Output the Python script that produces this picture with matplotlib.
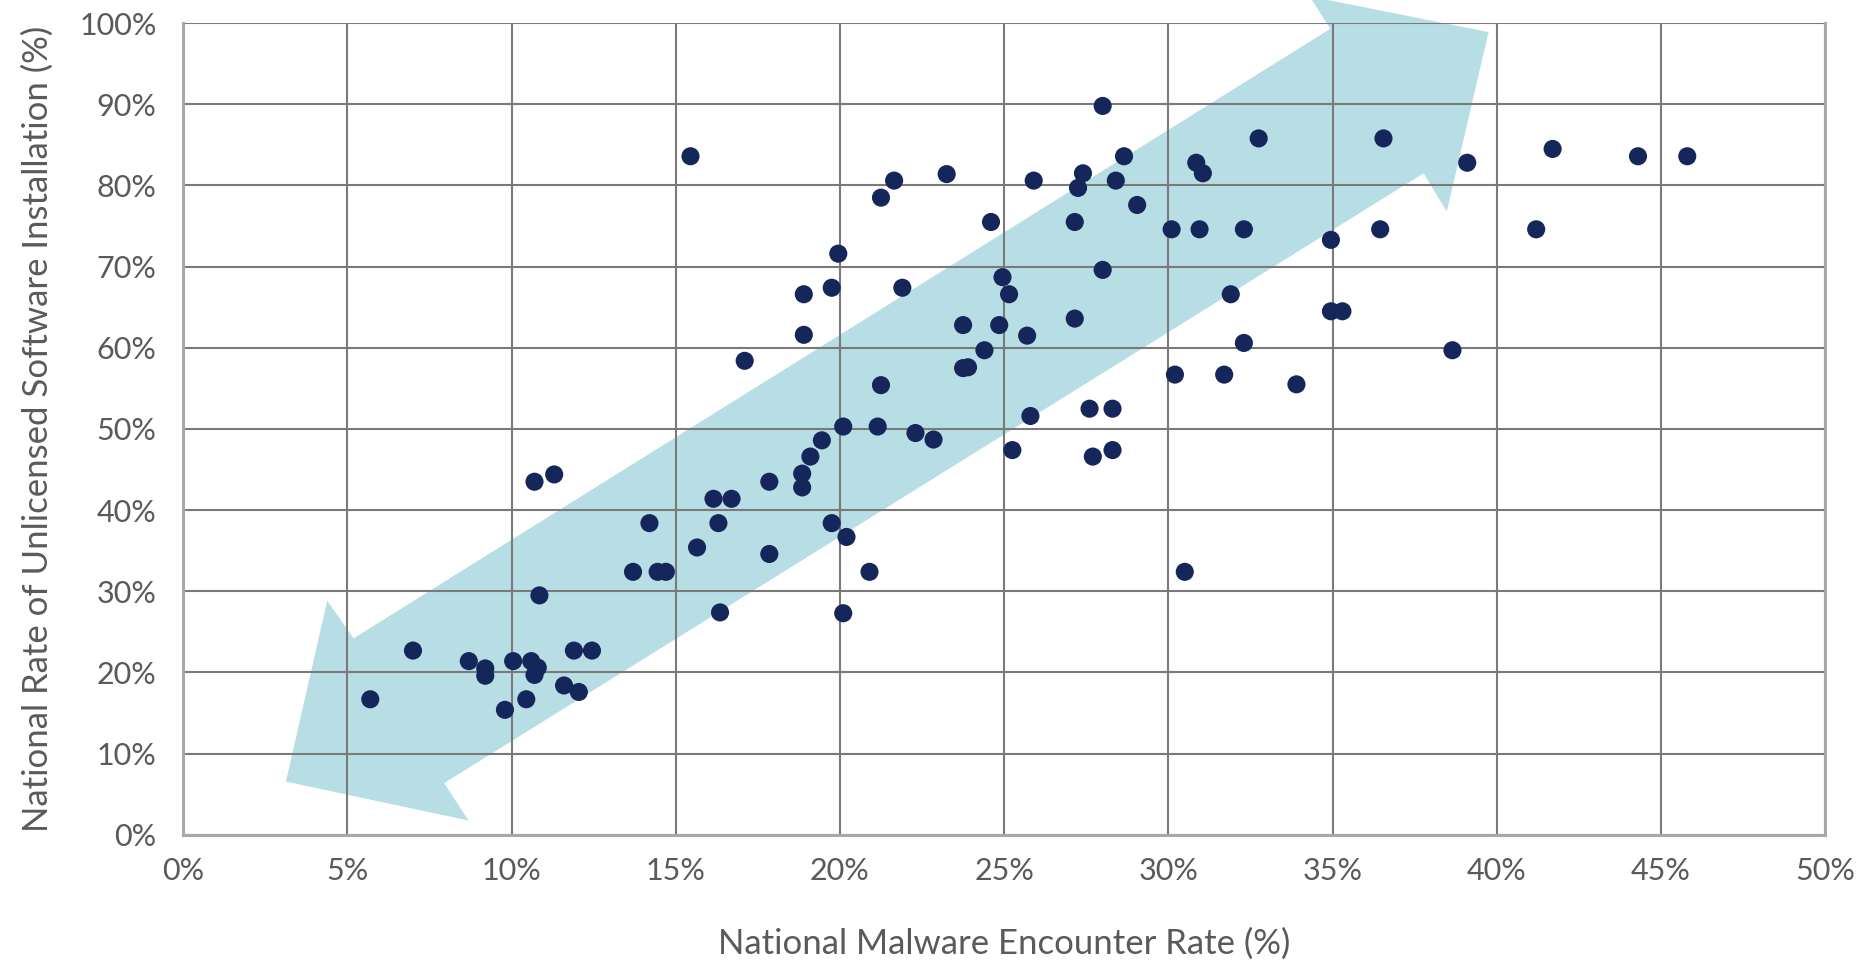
import matplotlib
matplotlib.use("Agg")
import matplotlib.pyplot as plt
from matplotlib.patches import Polygon
from matplotlib.ticker import FuncFormatter

plt.rcParams['font.family'] = ['Lato', 'DejaVu Sans']

# malware encounter rate (%) vs unlicensed software rate (%)
malware = [5.7, 7.0, 8.7, 9.2, 9.2, 9.8, 10.05, 10.45, 10.6, 10.7, 10.8,
           10.7, 11.3, 10.85, 11.6, 11.9, 12.05, 12.45, 13.7, 14.2, 14.45, 14.7,
           15.45, 15.65, 16.15, 16.3, 16.35, 16.7, 17.1, 17.85, 17.85, 18.85,
           18.85, 18.9, 18.9, 19.1, 19.45, 19.75, 19.75, 19.95, 20.1, 20.1, 20.2,
           20.9, 21.15, 21.25, 21.25, 21.65, 21.9, 22.3, 22.85, 23.25, 23.75,
           23.75, 23.9, 24.4, 24.6, 24.85, 24.95, 25.15, 25.25, 25.7, 25.8,
           25.9, 27.15, 27.15, 27.25, 27.4, 27.6, 27.7, 28.0, 28.0, 28.3, 28.3,
           28.4, 28.65, 29.05, 30.1, 30.2, 30.5, 30.85, 30.95, 31.05, 31.7,
           31.9, 32.3, 32.3, 32.75, 33.9, 34.95, 34.95, 35.3, 36.45, 36.55,
           38.65, 39.1, 41.2, 41.7, 44.3, 45.8]
unlicensed = [16.7, 22.7, 21.4, 20.5, 19.6, 15.4, 21.4, 16.7, 21.4, 19.7, 20.6,
              43.5, 44.4, 29.5, 18.4, 22.7, 17.6, 22.7, 32.4, 38.4, 32.4, 32.4,
              83.6, 35.4, 41.4, 38.4, 27.4, 41.4, 58.4, 43.5, 34.6, 44.5,
              42.8, 61.6, 66.6, 46.6, 48.6, 67.4, 38.4, 71.6, 50.3, 27.3, 36.7,
              32.4, 50.3, 55.4, 78.5, 80.6, 67.4, 49.5, 48.7, 81.4, 62.8,
              57.5, 57.6, 59.7, 75.5, 62.8, 68.7, 66.6, 47.4, 61.5, 51.6,
              80.6, 63.6, 75.5, 79.7, 81.5, 52.5, 46.6, 89.8, 69.6, 52.5, 47.4,
              80.6, 83.6, 77.6, 74.6, 56.7, 32.4, 82.8, 74.6, 81.5, 56.7,
              66.6, 60.6, 74.6, 85.8, 55.5, 73.3, 64.5, 64.5, 74.6, 85.8,
              59.7, 82.8, 74.6, 84.5, 83.6, 83.6]

# decorative double-headed arrow outline, in data units
arrow_x = [3.13, 4.39, 5.19, 34.93, 34.3, 39.75, 38.48, 37.77, 7.95, 8.69]
arrow_y = [6.56, 28.85, 24.2, 99.3, 103.3, 98.9, 76.8, 81.5, 6.37, 1.76]

fig = plt.figure(figsize=(18.72, 9.64), dpi=100)
ax = fig.add_axes([0.0978, 0.134, 0.8772, 0.842])

ax.add_patch(Polygon(list(zip(arrow_x, arrow_y)), closed=True,
                     facecolor='#b7dee4', edgecolor='none', zorder=0.2,
                     clip_on=False))

ax.scatter(malware, unlicensed, s=170, color='#15265a', edgecolors='none',
           zorder=3)

ax.set_xlim(0, 50)
ax.set_ylim(0, 100)
ax.set_xticks(range(0, 51, 5))
ax.set_yticks(range(0, 101, 10))
pct = FuncFormatter(lambda v, p: "%d%%" % v)
ax.xaxis.set_major_formatter(pct)
ax.yaxis.set_major_formatter(pct)

ax.set_axisbelow(True)
ax.grid(True, color='#7a7a7a', linewidth=1.5)
for side in ['left', 'bottom', 'right']:
    ax.spines[side].set_color('#a8a8a8')
    ax.spines[side].set_linewidth(2.2)
ax.spines['top'].set_visible(False)

ax.tick_params(length=0, labelsize=22, labelcolor='#5a5a5a')
ax.tick_params(axis='x', pad=16)
ax.tick_params(axis='y', pad=19)

ax.set_xlabel("National Malware Encounter Rate (%)", fontsize=25,
              color='#5a5a5a', labelpad=31)
ax.set_ylabel("National Rate of Unlicensed Software Installation (%)",
              fontsize=25, color='#5a5a5a', labelpad=18)

plt.savefig("out.png", dpi=100)
